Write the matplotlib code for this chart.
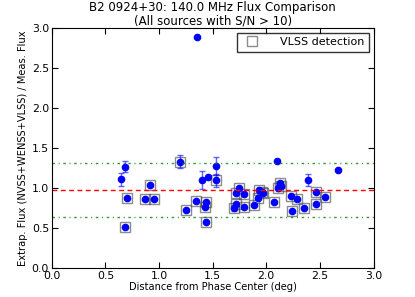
import numpy as np
import matplotlib
matplotlib.use("Agg")
from matplotlib import pyplot as plt

# flux ratio data
dist = [0.644, 0.682, 0.684, 0.703, 0.871, 0.918, 0.952, 1.195, 1.251, 1.342,
        1.351, 1.398, 1.432, 1.435, 1.441, 1.454, 1.528, 1.534, 1.700, 1.718,
        1.720, 1.749, 1.790, 1.796, 1.883, 1.926, 1.933, 1.964, 1.973, 2.073,
        2.101, 2.110, 2.129, 2.135, 2.232, 2.237, 2.285, 2.349, 2.387, 2.465,
        2.468, 2.549, 2.673]
ratio = [1.11, 1.27, 0.52, 0.875, 0.87, 1.04, 0.87, 1.33, 0.725, 0.84,
         2.895, 1.10, 0.77, 0.575, 0.825, 1.137, 1.10, 1.28, 0.75, 0.945,
         0.80, 1.00, 0.925, 0.77, 0.787, 0.875, 0.979, 0.958, 0.94, 0.833,
         1.341, 1.00, 1.07, 1.03, 0.908, 0.72, 0.866, 0.754, 1.104, 0.808,
         0.95, 0.895, 1.233]
err = [0.085, 0.067, 0.0, 0.0, 0.0, 0.0, 0.0, 0.08, 0.0, 0.0,
       0.0, 0.115, 0.0, 0.0, 0.0, 0.0, 0.08, 0.115, 0.04, 0.0,
       0.0, 0.0, 0.0, 0.0, 0.0, 0.0, 0.0, 0.0, 0.0, 0.0,
       0.0, 0.0, 0.0, 0.0, 0.0, 0.0, 0.0, 0.0, 0.07, 0.0,
       0.0, 0.0, 0.0]
vlss = [0, 0, 1, 1, 1, 1, 1, 1, 1, 1,
        0, 0, 1, 1, 1, 0, 1, 0, 1, 1,
        1, 1, 1, 1, 1, 1, 1, 1, 1, 1,
        0, 1, 1, 1, 1, 1, 1, 1, 0, 1,
        1, 1, 0]

median_ratio = 0.979
spread = 0.336

plt.rcParams["font.size"] = 8
plt.rcParams["xtick.direction"] = "in"
plt.rcParams["ytick.direction"] = "in"
plt.rcParams["xtick.top"] = True
plt.rcParams["ytick.right"] = True

dist = np.array(dist)
ratio = np.array(ratio)
err = np.array(err)
vlss = np.array(vlss, dtype=bool)
has_err = err > 0

fig = plt.figure(figsize=(4.15, 2.97), dpi=100)
ax = fig.add_axes([0.125, 0.0966, 0.775, 0.8084])

ax.plot(dist[vlss], ratio[vlss], "s", ms=6.5, mfc="none", mec="0.25", mew=1.0,
        alpha=0.6, label="VLSS detection")
ax.errorbar(dist[has_err], ratio[has_err], yerr=err[has_err], fmt="none",
            ecolor="b", alpha=0.6, capsize=2.5, elinewidth=1)
ax.plot(dist, ratio, "o", color="b", ms=4.5, mec="b")

ax.axhline(median_ratio, color="r", ls="--", dashes=(3.5, 2.5), lw=1)
for level in (median_ratio + spread, median_ratio - spread):
    ax.axhline(level, color="g", ls="-.", dashes=(1.8, 2.6, 0.8, 2.6),
               lw=1, alpha=0.8)

ax.set_xlim(0, 3)
ax.set_ylim(0, 3)
ax.set_xticks(np.arange(0, 3.01, 0.5))
ax.set_yticks(np.arange(0, 3.01, 0.5))
ax.tick_params(length=4, pad=2, labelsize=7.8)
ax.set_xlabel("Distance from Phase Center (deg)", fontsize=7.1, labelpad=1)
ax.set_ylabel("Extrap. Flux (NVSS+WENSS+VLSS) / Meas. Flux", fontsize=7.1,
              labelpad=3)
ax.set_title("B2 0924+30: 140.0 MHz Flux Comparison\n(All sources with S/N > 10)",
             fontsize=8.5, linespacing=1.05, pad=3)

leg = ax.legend(loc="upper right", numpoints=1, fancybox=False, fontsize=8,
                borderaxespad=0.4, handletextpad=1.5)
leg.get_frame().set_edgecolor("k")

fig.savefig("out.png", dpi=100)
